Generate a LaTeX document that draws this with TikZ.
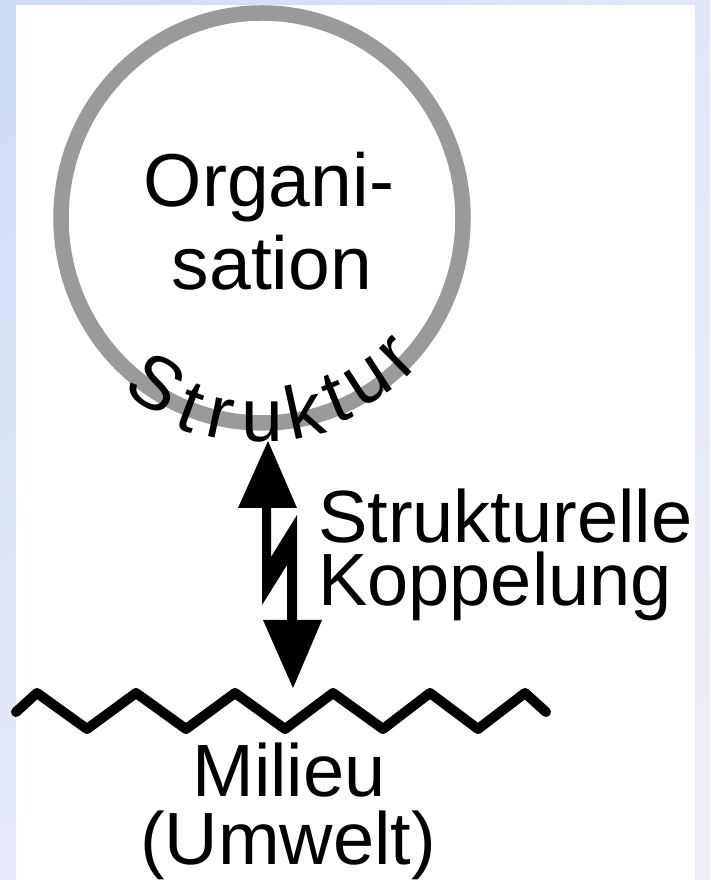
\documentclass[tikz,border=0pt]{standalone}
\usepackage{fontspec}
\setmainfont{Liberation Sans}
\usetikzlibrary{shadings}

\definecolor{ringgray}{RGB}{154,154,154}
\definecolor{bgA}{RGB}{206,219,245}
\definecolor{bgB}{RGB}{226,231,248}
\definecolor{bgC}{RGB}{230,234,248}
\definecolor{bgD}{RGB}{238,238,248}

\newcommand{\labelsize}{\fontsize{74pt}{74pt}\selectfont}
\newcommand{\orgsize}{\fontsize{75pt}{75pt}\selectfont}
\newcommand{\struksize}{\fontsize{75pt}{75pt}\selectfont}

\begin{document}
\begin{tikzpicture}[x=1pt,y=1pt,
  lbl/.style={inner sep=0pt,font=\labelsize},
  orglbl/.style={inner sep=0pt,font=\orgsize,anchor=base},
  arcletter/.style={inner sep=0pt,font=\struksize},
  ring/.style={draw=ringgray,line width=15.5pt},
  wave/.style={draw=black,line width=10pt,line join=round,line cap=round},
  bolt/.style={fill=black}]

\useasboundingbox (0,0) rectangle (710,880);

% page background
\shade[upper left=bgA,upper right=bgB,lower left=bgC,lower right=bgD]
  (0,0) rectangle (710,880);
\fill[white] (16,0) rectangle (695,875);

% the system: organisation inside its structure ring
\coordinate (ringc) at (262,662);
\draw[ring] (ringc) ellipse[x radius=201pt,y radius=205pt];
\node[orglbl] (org1) at (269,673) {Organi-};
\node[orglbl] (org2) at (272,590) {sation};

% curved label: one letter at a time round the lower part of the ring,
% each turned so that its top points at the centre
\foreach \ch/\px/\py/\rot [count=\i] in
  {S/156/497/327.3, t/191/472/339.5, r/220/462/348.1, u/262/458/0,
   k/304/470/12.3, t/336/482/22.4, u/368/498/32.9, r/398/523/44.4}
  \node[arcletter,rotate=\rot] (sk\i) at (\px,\py) {\ch};

% ends of the coupling arrow
\coordinate (strukturtip) at (268,439);
\coordinate (milieutip) at (293,192);

% double-headed lightning arrow
\fill[bolt] (strukturtip) -- (297,372) -- (271,372) -- (271,323) -- (297,365)
  -- (297,260) -- (322,260) -- (milieutip) -- (263,260) -- (287,260)
  -- (287,315) -- (262,275) -- (262,372) -- (238,372) -- cycle;

\node[lbl,anchor=base west] (kop1) at (318,337) {Strukturelle};
\node[lbl,anchor=base west] (kop2) at (318,274) {Koppelung};

% the environment
\draw[wave] (16,168) -- (37,187) -- (87,151) -- (136,187) -- (186,151)
  -- (235,187) -- (285,151) -- (333,187) -- (383,151) -- (430,187)
  -- (478,151) -- (525,187) -- (546,168);

\node[lbl,anchor=base] (milieu) at (289,83) {Milieu};
\node[lbl,anchor=base] (umwelt) at (288,15) {(Umwelt)};
\end{tikzpicture}
\end{document}
